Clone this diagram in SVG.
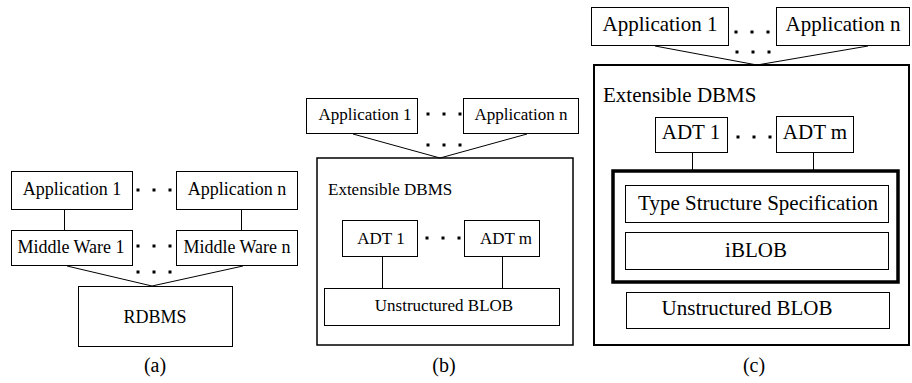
<svg xmlns="http://www.w3.org/2000/svg" width="912" height="383" viewBox="0 0 912 383">
<style>
rect.b{fill:#fff;stroke:#000;stroke-width:1}
rect.o{fill:#fff;stroke:#000;stroke-width:1.5}
rect.o2{fill:#fff;stroke:#000;stroke-width:2}
rect.t{fill:none;stroke:#000;stroke-width:3.5}
text{font-family:"Liberation Serif","Times New Roman",serif;fill:#000}
.a{font-size:18px}
.bb{font-size:17px}
.c{font-size:21px}
.cap{font-size:20px}
.m{text-anchor:middle}
line,polyline{stroke:#000;stroke-width:1;fill:none}
rect.d{fill:#000;stroke:none}
</style>
<defs>
<g id="dots"><rect class="d" x="-1.5" y="-1.5" width="3" height="3"/><rect class="d" x="14.5" y="-1.5" width="3" height="3"/><rect class="d" x="30.5" y="-1.5" width="3" height="3"/></g>
</defs>

<!-- (a) -->
<g id="containers-a">
<g id="a-app1"><rect class="b" x="11.5" y="171.5" width="121" height="38"/><text class="a m" x="72" y="195">Application 1</text></g>
<g id="a-appn"><rect class="b" x="176.5" y="171.5" width="121" height="38"/><text class="a m" x="237" y="195">Application n</text></g>
<g id="a-mw1"><rect class="b" x="11.5" y="230.5" width="121" height="35"/><text class="a m" x="71" y="253">Middle Ware 1</text></g>
<g id="a-mwn"><rect class="b" x="176.5" y="230.5" width="121" height="35"/><text class="a m" x="237" y="253">Middle Ware n</text></g>
<g id="a-rdbms"><rect class="b" x="78.5" y="286.5" width="154" height="60"/><text class="a m" x="155" y="323">RDBMS</text></g>
<text class="cap m" x="155" y="372">(a)</text>
</g>

<!-- (b) -->
<g id="b-edbms"><rect class="o" x="317" y="158" width="256" height="187"/><text class="bb" x="328" y="195">Extensible DBMS</text></g>
<g id="b-app1"><rect class="b" x="306.5" y="98.5" width="111" height="35"/><text class="bb m" x="365" y="120">Application 1</text></g>
<g id="b-appn"><rect class="b" x="463.5" y="98.5" width="115" height="35"/><text class="bb m" x="521" y="120">Application n</text></g>
<g id="b-adt1"><rect class="b" x="342.5" y="220.5" width="75" height="36"/><text class="bb m" x="381" y="244">ADT 1</text></g>
<g id="b-adtm"><rect class="b" x="464.5" y="220.5" width="75" height="36"/><text class="bb m" x="506" y="244">ADT m</text></g>
<g id="b-blob"><rect class="b" x="324.5" y="288.5" width="235" height="37"/><text class="bb m" x="444" y="311">Unstructured BLOB</text></g>
<text class="cap m" x="444" y="372">(b)</text>

<!-- (c) -->
<g id="c-edbms"><rect class="o2" x="594" y="65" width="315" height="280"/><text class="c" x="603" y="102">Extensible DBMS</text></g>
<g id="c-app1"><rect class="b" x="591.5" y="7.5" width="137" height="38"/><text class="c m" x="660" y="31">Application 1</text></g>
<g id="c-appn"><rect class="b" x="776.5" y="7.5" width="133" height="38"/><text class="c m" x="843" y="31">Application n</text></g>
<g id="c-adt1"><rect class="b" x="655.5" y="117.5" width="72" height="35"/><text class="c m" x="691" y="139">ADT 1</text></g>
<g id="c-adtm"><rect class="b" x="776.5" y="116.5" width="77" height="36"/><text class="c m" x="815" y="139">ADT m</text></g>
<g id="c-typed"><rect class="t" x="613" y="171" width="285" height="111"/></g>
<g id="c-tss"><rect class="b" x="625.5" y="185.5" width="263" height="37"/><text class="c m" x="758" y="210">Type Structure Specification</text></g>
<g id="c-iblob"><rect class="b" x="625.5" y="232.5" width="263" height="37"/><text class="c m" x="756" y="257">iBLOB</text></g>
<g id="c-blob"><rect class="b" x="626.5" y="292.5" width="263" height="36"/><text class="c m" x="747" y="315">Unstructured BLOB</text></g>
<text class="cap m" x="754" y="372">(c)</text>

<g id="connectors">
<line x1="64.5" y1="210" x2="64.5" y2="230"/>
<line x1="241.5" y1="210" x2="241.5" y2="230"/>
<polyline points="67,266 152,286 243,266"/>
<polyline points="353,134 440,158 527,134"/>
<line x1="382.5" y1="257" x2="382.5" y2="288"/>
<line x1="502.5" y1="257" x2="502.5" y2="288"/>
<polyline points="655,46 757,65 868,46"/>
<line x1="692.5" y1="153" x2="692.5" y2="170"/>
<line x1="813.5" y1="153" x2="813.5" y2="170"/>
<use href="#dots" x="138" y="190"/>
<use href="#dots" x="138" y="246"/>
<use href="#dots" x="138" y="272"/>
<use href="#dots" x="428" y="114"/>
<use href="#dots" x="428" y="145"/>
<use href="#dots" x="427" y="238"/>
<use href="#dots" x="736" y="32"/>
<use href="#dots" x="737" y="52"/>
<use href="#dots" x="738" y="137"/>
</g>
</svg>
